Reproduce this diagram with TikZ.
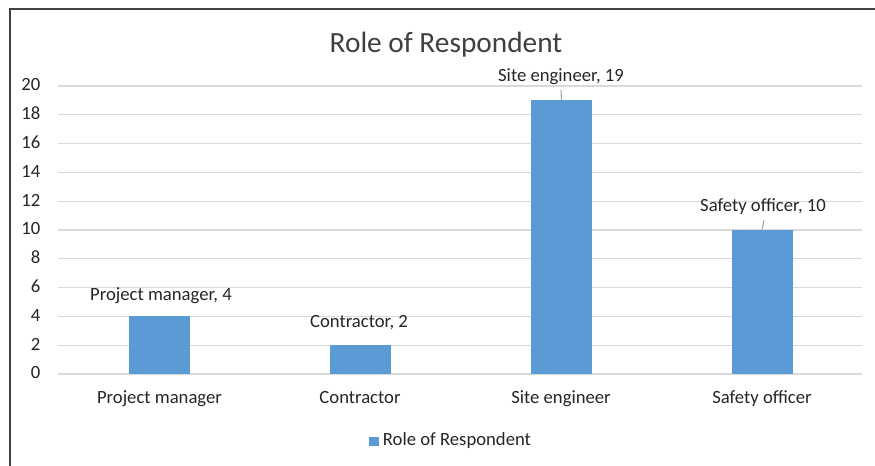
\documentclass[tikz,border=0pt]{standalone}
\usepackage{fontspec}
\setmainfont{Carlito}
\definecolor{barblue}{HTML}{5B9BD5}
\definecolor{gridgray}{HTML}{D9D9D9}
\definecolor{framegray}{HTML}{404040}
\definecolor{txtgray}{HTML}{262626}
\definecolor{titlegray}{HTML}{404040}
\definecolor{leadgray}{HTML}{A6A6A6}
\tikzset{
  frame/.style={draw=framegray, line width=2pt},
  gridline/.style={draw=gridgray, line width=1pt},
  bar/.style={fill=barblue, draw=none, minimum width=45.75pt, inner sep=0pt, anchor=south},
  lbl/.style={font=\fontsize{14}{16}\selectfont, text=txtgray, inner sep=0pt, anchor=base},
  ticklbl/.style={font=\fontsize{14}{16}\selectfont, text=txtgray, inner sep=0pt, anchor=base east},
  leader/.style={draw=leadgray, line width=0.8pt},
}
\begin{document}
\begin{tikzpicture}[x=0.75pt,y=-0.75pt]
\useasboundingbox (0,0) rectangle (875,466);
\clip (0,0) rectangle (875,466);
\fill[white] (0,0) rectangle (875,466);
\draw[frame] (10,9) rectangle (900,500);
% title
\node[anchor=base, font=\fontsize{22}{26}\selectfont, text=titlegray, inner sep=0pt] (title) at (446,52.3) {Role of Respondent};
% gridlines and ticks
\foreach \v [count=\i] in {0,2,...,20} {
  \draw[gridline] (58,{374-\v*14.4}) -- (862,{374-\v*14.4});
  \node[ticklbl] (t\i) at (40.5,{379-\v*14.4}) {\v};
}
% bars
\node[bar, minimum height={4*10.8pt}] (b1) at (159.5,374) {};
\node[bar, minimum height={2*10.8pt}] (b2) at (360,374) {};
\node[bar, minimum height={19*10.8pt}] (b3) at (561.5,374) {};
\node[bar, minimum height={10*10.8pt}] (b4) at (762,374) {};
% data labels
\node[lbl] (l1) at (161,301) {Project manager, 4};
\node[lbl] (l2) at (359,327.3) {Contractor, 2};
\node[lbl] (l3) at (561,81.7) {Site engineer, 19};
\node[lbl] (l4) at (763,211.7) {Safety officer, 10};
\draw[leader] ([yshift=-3.5pt]l3.south) -- (b3.north);
\draw[leader] ([xshift=0.8pt,yshift=-4pt]l4.south) -- (b4.north);
% category labels
\node[lbl] (c1) at (159.5,404) {Project manager};
\node[lbl] (c2) at (360,404) {Contractor};
\node[lbl] (c3) at (561,404) {Site engineer};
\node[lbl] (c4) at (762,404) {Safety officer};
% legend
\node[fill=barblue, minimum width=7.5pt, minimum height=6.75pt, inner sep=0pt, anchor=north west] (lgsq) at (368.3,436.7) {};
\node[lbl, anchor=base west] (lgtxt) at (382.7,445.7) {Role of Respondent};
\end{tikzpicture}
\end{document}
